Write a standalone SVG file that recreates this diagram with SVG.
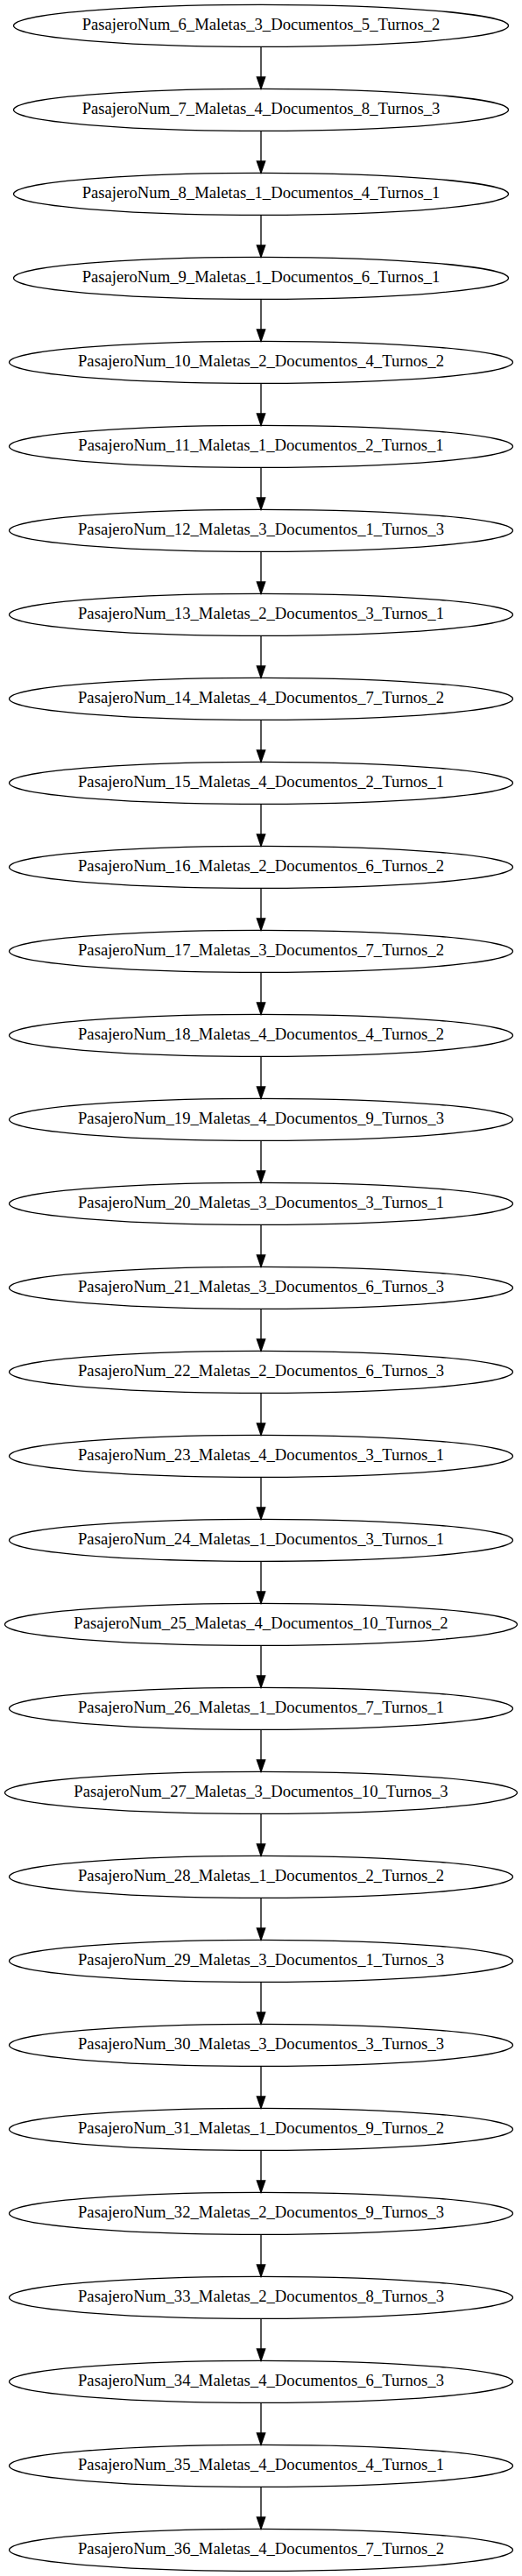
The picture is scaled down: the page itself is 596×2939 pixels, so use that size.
<svg xmlns="http://www.w3.org/2000/svg" width="596" height="2939" viewBox="0 0 596 2939">
<style>
.n ellipse{fill:none;stroke:#000;stroke-width:1.33}
.n text{font-family:"Liberation Serif","Times New Roman",serif;font-size:18.67px;text-anchor:middle;fill:#000}
#edges path{fill:none;stroke:#000;stroke-width:1.33}
#edges polygon{fill:#000;stroke:#000;stroke-width:1.33}
</style>
<rect width="596" height="2939" fill="#fff"/>
<g id="edges">
<path d="M298,53.33V88"/><polygon points="302.67,88 298,101.33 293.33,88"/>
<path d="M298,149.33V184"/><polygon points="302.67,184 298,197.33 293.33,184"/>
<path d="M298,245.33V280"/><polygon points="302.67,280 298,293.33 293.33,280"/>
<path d="M298,341.33V376"/><polygon points="302.67,376 298,389.33 293.33,376"/>
<path d="M298,437.33V472"/><polygon points="302.67,472 298,485.33 293.33,472"/>
<path d="M298,533.33V568"/><polygon points="302.67,568 298,581.33 293.33,568"/>
<path d="M298,629.33V664"/><polygon points="302.67,664 298,677.33 293.33,664"/>
<path d="M298,725.33V760"/><polygon points="302.67,760 298,773.33 293.33,760"/>
<path d="M298,821.33V856"/><polygon points="302.67,856 298,869.33 293.33,856"/>
<path d="M298,917.33V952"/><polygon points="302.67,952 298,965.33 293.33,952"/>
<path d="M298,1013.33V1048"/><polygon points="302.67,1048 298,1061.33 293.33,1048"/>
<path d="M298,1109.33V1144"/><polygon points="302.67,1144 298,1157.33 293.33,1144"/>
<path d="M298,1205.33V1240"/><polygon points="302.67,1240 298,1253.33 293.33,1240"/>
<path d="M298,1301.33V1336"/><polygon points="302.67,1336 298,1349.33 293.33,1336"/>
<path d="M298,1397.33V1432"/><polygon points="302.67,1432 298,1445.33 293.33,1432"/>
<path d="M298,1493.33V1528"/><polygon points="302.67,1528 298,1541.33 293.33,1528"/>
<path d="M298,1589.33V1624"/><polygon points="302.67,1624 298,1637.33 293.33,1624"/>
<path d="M298,1685.33V1720"/><polygon points="302.67,1720 298,1733.33 293.33,1720"/>
<path d="M298,1781.33V1816"/><polygon points="302.67,1816 298,1829.33 293.33,1816"/>
<path d="M298,1877.33V1912"/><polygon points="302.67,1912 298,1925.33 293.33,1912"/>
<path d="M298,1973.33V2008"/><polygon points="302.67,2008 298,2021.33 293.33,2008"/>
<path d="M298,2069.33V2104"/><polygon points="302.67,2104 298,2117.33 293.33,2104"/>
<path d="M298,2165.33V2200"/><polygon points="302.67,2200 298,2213.33 293.33,2200"/>
<path d="M298,2261.33V2296"/><polygon points="302.67,2296 298,2309.33 293.33,2296"/>
<path d="M298,2357.33V2392"/><polygon points="302.67,2392 298,2405.33 293.33,2392"/>
<path d="M298,2453.33V2488"/><polygon points="302.67,2488 298,2501.33 293.33,2488"/>
<path d="M298,2549.33V2584"/><polygon points="302.67,2584 298,2597.33 293.33,2584"/>
<path d="M298,2645.33V2680"/><polygon points="302.67,2680 298,2693.33 293.33,2680"/>
<path d="M298,2741.33V2776"/><polygon points="302.67,2776 298,2789.33 293.33,2776"/>
<path d="M298,2837.33V2872"/><polygon points="302.67,2872 298,2885.33 293.33,2872"/>
</g>
<g id="n6" class="n"><ellipse cx="298" cy="29.33" rx="282.5" ry="24"/><text x="298" y="34.27">PasajeroNum_6_Maletas_3_Documentos_5_Turnos_2</text></g>
<g id="n7" class="n"><ellipse cx="298" cy="125.33" rx="282.5" ry="24"/><text x="298" y="130.27">PasajeroNum_7_Maletas_4_Documentos_8_Turnos_3</text></g>
<g id="n8" class="n"><ellipse cx="298" cy="221.33" rx="282.5" ry="24"/><text x="298" y="226.27">PasajeroNum_8_Maletas_1_Documentos_4_Turnos_1</text></g>
<g id="n9" class="n"><ellipse cx="298" cy="317.33" rx="282.5" ry="24"/><text x="298" y="322.27">PasajeroNum_9_Maletas_1_Documentos_6_Turnos_1</text></g>
<g id="n10" class="n"><ellipse cx="298" cy="413.33" rx="287.5" ry="24"/><text x="298" y="418.27">PasajeroNum_10_Maletas_2_Documentos_4_Turnos_2</text></g>
<g id="n11" class="n"><ellipse cx="298" cy="509.33" rx="287.5" ry="24"/><text x="298" y="514.27">PasajeroNum_11_Maletas_1_Documentos_2_Turnos_1</text></g>
<g id="n12" class="n"><ellipse cx="298" cy="605.33" rx="287.5" ry="24"/><text x="298" y="610.27">PasajeroNum_12_Maletas_3_Documentos_1_Turnos_3</text></g>
<g id="n13" class="n"><ellipse cx="298" cy="701.33" rx="287.5" ry="24"/><text x="298" y="706.27">PasajeroNum_13_Maletas_2_Documentos_3_Turnos_1</text></g>
<g id="n14" class="n"><ellipse cx="298" cy="797.33" rx="287.5" ry="24"/><text x="298" y="802.27">PasajeroNum_14_Maletas_4_Documentos_7_Turnos_2</text></g>
<g id="n15" class="n"><ellipse cx="298" cy="893.33" rx="287.5" ry="24"/><text x="298" y="898.27">PasajeroNum_15_Maletas_4_Documentos_2_Turnos_1</text></g>
<g id="n16" class="n"><ellipse cx="298" cy="989.33" rx="287.5" ry="24"/><text x="298" y="994.27">PasajeroNum_16_Maletas_2_Documentos_6_Turnos_2</text></g>
<g id="n17" class="n"><ellipse cx="298" cy="1085.33" rx="287.5" ry="24"/><text x="298" y="1090.27">PasajeroNum_17_Maletas_3_Documentos_7_Turnos_2</text></g>
<g id="n18" class="n"><ellipse cx="298" cy="1181.33" rx="287.5" ry="24"/><text x="298" y="1186.27">PasajeroNum_18_Maletas_4_Documentos_4_Turnos_2</text></g>
<g id="n19" class="n"><ellipse cx="298" cy="1277.33" rx="287.5" ry="24"/><text x="298" y="1282.27">PasajeroNum_19_Maletas_4_Documentos_9_Turnos_3</text></g>
<g id="n20" class="n"><ellipse cx="298" cy="1373.33" rx="287.5" ry="24"/><text x="298" y="1378.27">PasajeroNum_20_Maletas_3_Documentos_3_Turnos_1</text></g>
<g id="n21" class="n"><ellipse cx="298" cy="1469.33" rx="287.5" ry="24"/><text x="298" y="1474.27">PasajeroNum_21_Maletas_3_Documentos_6_Turnos_3</text></g>
<g id="n22" class="n"><ellipse cx="298" cy="1565.33" rx="287.5" ry="24"/><text x="298" y="1570.27">PasajeroNum_22_Maletas_2_Documentos_6_Turnos_3</text></g>
<g id="n23" class="n"><ellipse cx="298" cy="1661.33" rx="287.5" ry="24"/><text x="298" y="1666.27">PasajeroNum_23_Maletas_4_Documentos_3_Turnos_1</text></g>
<g id="n24" class="n"><ellipse cx="298" cy="1757.33" rx="287.5" ry="24"/><text x="298" y="1762.27">PasajeroNum_24_Maletas_1_Documentos_3_Turnos_1</text></g>
<g id="n25" class="n"><ellipse cx="298" cy="1853.33" rx="292.5" ry="24"/><text x="298" y="1858.27">PasajeroNum_25_Maletas_4_Documentos_10_Turnos_2</text></g>
<g id="n26" class="n"><ellipse cx="298" cy="1949.33" rx="287.5" ry="24"/><text x="298" y="1954.27">PasajeroNum_26_Maletas_1_Documentos_7_Turnos_1</text></g>
<g id="n27" class="n"><ellipse cx="298" cy="2045.33" rx="292.5" ry="24"/><text x="298" y="2050.27">PasajeroNum_27_Maletas_3_Documentos_10_Turnos_3</text></g>
<g id="n28" class="n"><ellipse cx="298" cy="2141.33" rx="287.5" ry="24"/><text x="298" y="2146.27">PasajeroNum_28_Maletas_1_Documentos_2_Turnos_2</text></g>
<g id="n29" class="n"><ellipse cx="298" cy="2237.33" rx="287.5" ry="24"/><text x="298" y="2242.27">PasajeroNum_29_Maletas_3_Documentos_1_Turnos_3</text></g>
<g id="n30" class="n"><ellipse cx="298" cy="2333.33" rx="287.5" ry="24"/><text x="298" y="2338.27">PasajeroNum_30_Maletas_3_Documentos_3_Turnos_3</text></g>
<g id="n31" class="n"><ellipse cx="298" cy="2429.33" rx="287.5" ry="24"/><text x="298" y="2434.27">PasajeroNum_31_Maletas_1_Documentos_9_Turnos_2</text></g>
<g id="n32" class="n"><ellipse cx="298" cy="2525.33" rx="287.5" ry="24"/><text x="298" y="2530.27">PasajeroNum_32_Maletas_2_Documentos_9_Turnos_3</text></g>
<g id="n33" class="n"><ellipse cx="298" cy="2621.33" rx="287.5" ry="24"/><text x="298" y="2626.27">PasajeroNum_33_Maletas_2_Documentos_8_Turnos_3</text></g>
<g id="n34" class="n"><ellipse cx="298" cy="2717.33" rx="287.5" ry="24"/><text x="298" y="2722.27">PasajeroNum_34_Maletas_4_Documentos_6_Turnos_3</text></g>
<g id="n35" class="n"><ellipse cx="298" cy="2813.33" rx="287.5" ry="24"/><text x="298" y="2818.27">PasajeroNum_35_Maletas_4_Documentos_4_Turnos_1</text></g>
<g id="n36" class="n"><ellipse cx="298" cy="2909.33" rx="287.5" ry="24"/><text x="298" y="2914.27">PasajeroNum_36_Maletas_4_Documentos_7_Turnos_2</text></g>
</svg>
